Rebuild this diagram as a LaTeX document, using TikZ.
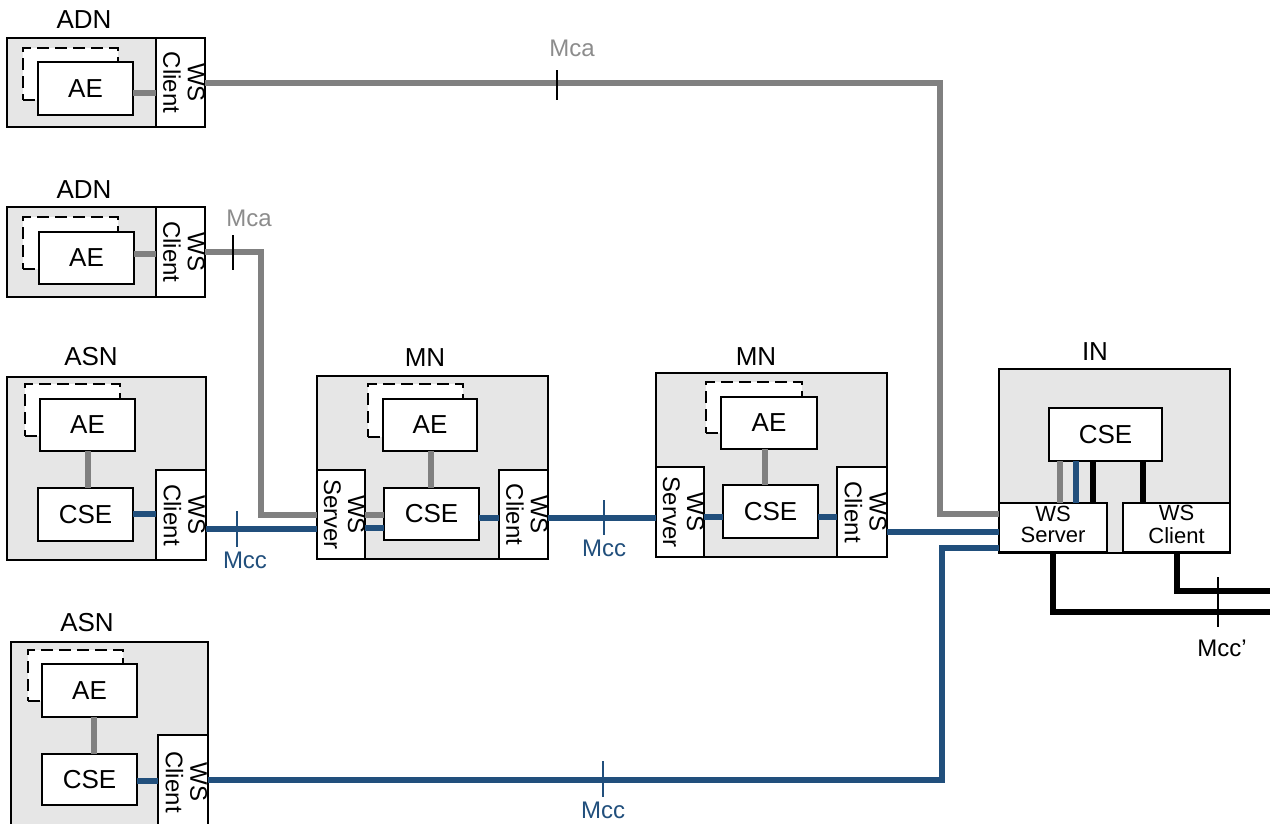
\documentclass[tikz,border=0pt]{standalone}
\usepackage{fontspec}
\usepackage{graphicx}
\setmainfont{Liberation Sans}
\definecolor{boxgray}{RGB}{230,230,230}
\definecolor{lgray}{RGB}{128,128,128}
\definecolor{lblgray}{RGB}{140,140,140}
\definecolor{mblue}{RGB}{33,79,124}
\newcommand\mybox[7]{\node[#1, minimum width={(#5-#3)*1pt}, minimum height={(#6-#4)*1pt}] (#2) at ({(#3+#5)/2},{(#4+#6)/2}) {#7};}
\newcommand\vtext[2]{\rotatebox{-90}{\fontsize{24}{24}\selectfont\begin{tabular}{@{}c@{}}#1\\#2\end{tabular}}}
\newcommand\htext[2]{\fontsize{22}{21}\selectfont\begin{tabular}{@{}c@{}}#1\\#2\end{tabular}}
\tikzset{
  every node/.style={font=\fontsize{26}{24}\selectfont},
  outerbox/.style={draw=black, fill=boxgray, line width=1.6pt, inner sep=0pt, outer sep=0pt},
  box/.style={draw=black, fill=white, line width=1.6pt, inner sep=0pt, outer sep=0pt, align=center},
  dbox/.style={draw=black, fill=white, line width=1.6pt, inner sep=0pt, outer sep=0pt, dash pattern=on 12pt off 6pt},
  gline/.style={draw=lgray, line width=5.5pt},
  bline/.style={draw=mblue, line width=5.5pt},
  kline/.style={draw=black, line width=5.5pt},
  tickmark/.style={line width=1.5pt},
  lbl/.style={inner sep=0pt},
  clbl/.style={inner sep=0pt, font=\fontsize{24}{24}\selectfont}
}
\begin{document}
\begin{tikzpicture}[x=1pt,y=-1pt]
\useasboundingbox (0,0) rectangle (1270,823);
\clip (0,0) rectangle (1270,823);
% ADN 1
\mybox{outerbox}{adn1}{7}{38}{205}{127}{}
\mybox{box}{ws1}{156}{38}{205}{127}{\vtext{WS}{Client}}
\mybox{dbox}{d1}{23}{48}{118}{100}{}
\mybox{box}{ae1}{38}{62}{133}{115}{AE}
\node[lbl] (l1) at (84,20) {ADN};
% ADN 2
\mybox{outerbox}{adn2}{7}{207}{205}{297}{}
\mybox{box}{ws2}{156}{207}{205}{297}{\vtext{WS}{Client}}
\mybox{dbox}{d2}{23}{217}{118}{269}{}
\mybox{box}{ae2}{39}{232}{134}{284}{AE}
\node[lbl] (l2) at (84,190) {ADN};
% ASN 1
\mybox{outerbox}{asn1}{7}{377}{206}{560}{}
\mybox{box}{ws3}{156}{470}{206}{560}{\vtext{WS}{Client}}
\mybox{dbox}{d3}{25}{384}{120}{436}{}
\mybox{box}{ae3}{40}{399}{135}{451}{AE}
\mybox{box}{cse3}{38}{488}{133}{541}{CSE}
\node[lbl] (l3) at (91,357) {ASN};
% MN 1
\mybox{outerbox}{mn1}{317}{376}{548}{559}{}
\mybox{box}{srv4}{317}{470}{365}{559}{\vtext{WS}{Server}}
\mybox{dbox}{d4}{368}{384}{463}{437}{}
\mybox{box}{ae4}{383}{399}{477}{451}{AE}
\mybox{box}{cse4}{384}{488}{479}{540}{CSE}
\mybox{box}{cl4}{499}{470}{548}{559}{\vtext{WS}{Client}}
\node[lbl] (l4) at (425,358) {MN};
% MN 2
\mybox{outerbox}{mn2}{656}{373}{887}{557}{}
\mybox{box}{srv5}{656}{467}{704}{557}{\vtext{WS}{Server}}
\mybox{dbox}{d5}{706}{382}{802}{433}{}
\mybox{box}{ae5}{721}{397}{817}{449}{AE}
\mybox{box}{cse5}{723}{485}{818}{538}{CSE}
\mybox{box}{cl5}{837}{467}{887}{557}{\vtext{WS}{Client}}
\node[lbl] (l5) at (756,357) {MN};
% IN
\mybox{outerbox}{inn}{999}{369}{1230}{553}{}
\mybox{box}{cse6}{1049}{408}{1162}{461}{CSE}
\mybox{box}{srv6}{999}{503}{1107}{552}{\htext{WS}{Server}}
\mybox{box}{cl6}{1123}{503}{1230}{552}{\htext{WS}{Client}}
\node[lbl] (l6) at (1095,352) {IN};
% ASN 2
\mybox{outerbox}{asn2}{11}{642}{208}{829}{}
\mybox{box}{ws7}{158}{735}{208}{829}{\vtext{WS}{Client}}
\mybox{dbox}{d7}{28}{650}{123}{701}{}
\mybox{box}{ae7}{42}{664}{137}{717}{AE}
\mybox{box}{cse7}{42}{754}{137}{805}{CSE}
\node[lbl] (l7) at (87,623) {ASN};
% connectors ADN1
\draw[gline] (ae1.east |- 0,93) -- (ws1.west |- 0,93);
\draw[gline] (ws1.east |- 0,83) -| (940,514) -- (srv6.west |- 0,514);
% ADN2
\draw[gline] (ae2.east |- 0,254) -- (ws2.west |- 0,254);
\draw[gline] (ws2.east |- 0,252) -| (261,515) -- (srv4.west |- 0,515);
% ASN1
\draw[gline] (ae3.south -| 88,0) -- (cse3.north -| 88,0);
\draw[bline] (cse3.east |- 0,514) -- (ws3.west |- 0,514);
\draw[bline] (ws3.east |- 0,529) -- (srv4.west |- 0,529);
% MN1
\draw[gline] (ae4.south -| 431,0) -- (cse4.north -| 431,0);
\draw[gline] (srv4.east |- 0,515) -- (cse4.west |- 0,515);
\draw[bline] (srv4.east |- 0,528) -- (cse4.west |- 0,528);
\draw[bline] (cse4.east |- 0,518) -- (cl4.west |- 0,518);
\draw[bline] (cl4.east |- 0,518) -- (srv5.west |- 0,518);
% MN2
\draw[gline] (ae5.south -| 765,0) -- (cse5.north -| 765,0);
\draw[bline] (srv5.east |- 0,517) -- (cse5.west |- 0,517);
\draw[bline] (cse5.east |- 0,517) -- (cl5.west |- 0,517);
\draw[bline] (cl5.east |- 0,532) -- (srv6.west |- 0,532);
% IN
\draw[gline] (cse6.south -| 1060,0) -- (srv6.north -| 1060,0);
\draw[bline] (cse6.south -| 1076,0) -- (srv6.north -| 1076,0);
\draw[kline] (cse6.south -| 1093,0) -- (srv6.north -| 1093,0);
\draw[kline] (cse6.south -| 1143,0) -- (cl6.north -| 1143,0);
\coordinate (e1) at (1280,612);
\coordinate (e2) at (1280,591);
\draw[kline] (srv6.south -| 1053,0) |- (e1);
\draw[kline] (cl6.south -| 1177,0) |- (e2);
% ASN2
\draw[gline] (ae7.south -| 94,0) -- (cse7.north -| 94,0);
\draw[bline] (cse7.east |- 0,781) -- (ws7.west |- 0,781);
\draw[bline] (ws7.east |- 0,780) -| (942,548) -- (srv6.west |- 0,548);
% ticks and labels
\draw[tickmark] (557,70) -- (557,100);
\node[clbl, text=lblgray] at (572,48) {Mca};
\draw[tickmark] (233,235) -- (233,270);
\node[clbl, text=lblgray] at (249,218) {Mca};
\draw[tickmark, mblue] (237,511) -- (237,547);
\node[clbl, text=mblue] at (245,560) {Mcc};
\draw[tickmark, mblue] (604,500) -- (604,535);
\node[clbl, text=mblue] at (604,548) {Mcc};
\draw[tickmark, mblue] (603,761) -- (603,797);
\node[clbl, text=mblue] at (603,810) {Mcc};
\draw[tickmark] (1218,577) -- (1218,627);
\node[clbl] at (1222,648) {Mcc’};
\end{tikzpicture}
\end{document}
